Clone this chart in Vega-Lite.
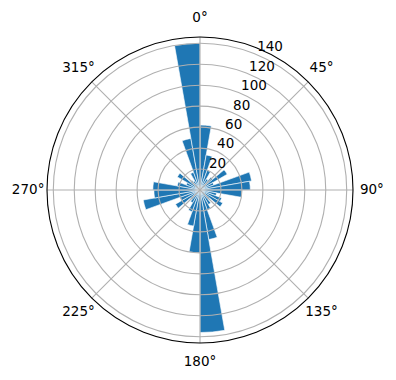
{
  "$schema": "https://vega.github.io/schema/vega-lite/v6.json",
  "width": 392,
  "height": 380,
  "autosize": "none",
  "padding": {"left": 4, "top": 0, "right": 0, "bottom": 0},
  "view": {"stroke": null},
  "config": {"font": "DejaVu Sans"},
  "datasets": {
    "bars": [
      {"a0": 0, "a1": 10, "v": 62}, {"a0": 10, "a1": 20, "v": 34}, {"a0": 20, "a1": 30, "v": 20},
      {"a0": 30, "a1": 40, "v": 12}, {"a0": 40, "a1": 50, "v": 16}, {"a0": 50, "a1": 60, "v": 30},
      {"a0": 60, "a1": 70, "v": 14}, {"a0": 70, "a1": 80, "v": 50}, {"a0": 80, "a1": 90, "v": 48},
      {"a0": 90, "a1": 100, "v": 40}, {"a0": 100, "a1": 110, "v": 16}, {"a0": 110, "a1": 120, "v": 22},
      {"a0": 120, "a1": 130, "v": 25}, {"a0": 130, "a1": 140, "v": 12}, {"a0": 140, "a1": 150, "v": 16},
      {"a0": 150, "a1": 160, "v": 20}, {"a0": 160, "a1": 170, "v": 48}, {"a0": 170, "a1": 180, "v": 136},
      {"a0": 180, "a1": 190, "v": 60}, {"a0": 190, "a1": 200, "v": 35}, {"a0": 200, "a1": 210, "v": 22},
      {"a0": 210, "a1": 220, "v": 14}, {"a0": 220, "a1": 230, "v": 12}, {"a0": 230, "a1": 240, "v": 27},
      {"a0": 240, "a1": 250, "v": 20}, {"a0": 250, "a1": 260, "v": 55}, {"a0": 260, "a1": 270, "v": 44},
      {"a0": 270, "a1": 280, "v": 45}, {"a0": 280, "a1": 290, "v": 22}, {"a0": 290, "a1": 300, "v": 14},
      {"a0": 300, "a1": 310, "v": 25}, {"a0": 310, "a1": 320, "v": 12}, {"a0": 320, "a1": 330, "v": 10},
      {"a0": 330, "a1": 340, "v": 18}, {"a0": 340, "a1": 350, "v": 50}, {"a0": 350, "a1": 360, "v": 140}
    ],
    "circles": [
      {"r": 20, "t0": 0, "t1": 360}, {"r": 40, "t0": 0, "t1": 360}, {"r": 60, "t0": 0, "t1": 360},
      {"r": 80, "t0": 0, "t1": 360}, {"r": 100, "t0": 0, "t1": 360}, {"r": 120, "t0": 0, "t1": 360},
      {"r": 140, "t0": 0, "t1": 360}
    ],
    "outer": [{"r": 146, "t0": 0, "t1": 360}],
    "spokes": [
      {"a": 0, "r": 146}, {"a": 45, "r": 146}, {"a": 90, "r": 146}, {"a": 135, "r": 146},
      {"a": 180, "r": 146}, {"a": 225, "r": 146}, {"a": 270, "r": 146}, {"a": 315, "r": 146}
    ],
    "anglabels": [
      {"a": 0, "r": 164, "lab": "0°"}, {"a": 45, "r": 164, "lab": "45°"}, {"a": 90, "r": 164, "lab": "90°"},
      {"a": 135, "r": 164, "lab": "135°"}, {"a": 180, "r": 164, "lab": "180°"}, {"a": 225, "r": 164, "lab": "225°"},
      {"a": 270, "r": 164, "lab": "270°"}, {"a": 315, "r": 164, "lab": "315°"}
    ],
    "rlabels": [
      {"a": 22.5, "r": 20, "lab": "20"}, {"a": 22.5, "r": 40, "lab": "40"}, {"a": 22.5, "r": 60, "lab": "60"},
      {"a": 22.5, "r": 80, "lab": "80"}, {"a": 22.5, "r": 100, "lab": "100"}, {"a": 22.5, "r": 120, "lab": "120"},
      {"a": 22.5, "r": 140, "lab": "140"}
    ]
  },
  "layer": [
    {
      "data": {"name": "bars"},
      "mark": {"type": "arc", "fill": "#1f77b4", "stroke": "white", "strokeWidth": 0.6},
      "encoding": {
        "theta": {"field": "a0", "type": "quantitative", "scale": {"domain": [0, 360], "range": [0, 6.283185307179586]}},
        "theta2": {"field": "a1"},
        "radius": {"field": "v", "type": "quantitative", "scale": {"type": "linear", "domain": [0, 146], "range": [0, 153], "zero": true}}
      }
    },
    {
      "data": {"name": "circles"},
      "mark": {"type": "arc", "filled": false, "stroke": "#b0b0b0", "strokeWidth": 1.1},
      "encoding": {
        "theta": {"field": "t0", "type": "quantitative", "scale": {"domain": [0, 360], "range": [0, 6.283185307179586]}},
        "theta2": {"field": "t1"},
        "radius": {"field": "r", "type": "quantitative", "scale": {"type": "linear", "domain": [0, 146], "range": [0, 153], "zero": true}}
      }
    },
    {
      "data": {"name": "spokes"},
      "mark": {"type": "arc", "filled": false, "stroke": "#b0b0b0", "strokeWidth": 1.1},
      "encoding": {
        "theta": {"field": "a", "type": "quantitative", "scale": {"domain": [0, 360], "range": [0, 6.283185307179586]}},
        "theta2": {"field": "a"},
        "radius": {"field": "r", "type": "quantitative", "scale": {"type": "linear", "domain": [0, 146], "range": [0, 153], "zero": true}}
      }
    },
    {
      "data": {"name": "outer"},
      "mark": {"type": "arc", "filled": false, "stroke": "black", "strokeWidth": 1.1},
      "encoding": {
        "theta": {"field": "t0", "type": "quantitative", "scale": {"domain": [0, 360], "range": [0, 6.283185307179586]}},
        "theta2": {"field": "t1"},
        "radius": {"field": "r", "type": "quantitative", "scale": {"type": "linear", "domain": [0, 146], "range": [0, 153], "zero": true}}
      }
    },
    {
      "data": {"name": "anglabels"},
      "mark": {"type": "text", "fontSize": 13.5, "align": "center", "baseline": "middle", "color": "black"},
      "encoding": {
        "theta": {"field": "a", "type": "quantitative", "scale": {"domain": [0, 360], "range": [0, 6.283185307179586]}},
        "radius": {"field": "r", "type": "quantitative", "scale": {"type": "linear", "domain": [0, 146], "range": [0, 153], "zero": true}},
        "text": {"field": "lab"}
      }
    },
    {
      "data": {"name": "rlabels"},
      "mark": {"type": "text", "fontSize": 13.5, "align": "left", "baseline": "bottom", "dx": 1, "color": "black"},
      "encoding": {
        "theta": {"field": "a", "type": "quantitative", "scale": {"domain": [0, 360], "range": [0, 6.283185307179586]}},
        "radius": {"field": "r", "type": "quantitative", "scale": {"type": "linear", "domain": [0, 146], "range": [0, 153], "zero": true}},
        "text": {"field": "lab"}
      }
    }
  ]
}
